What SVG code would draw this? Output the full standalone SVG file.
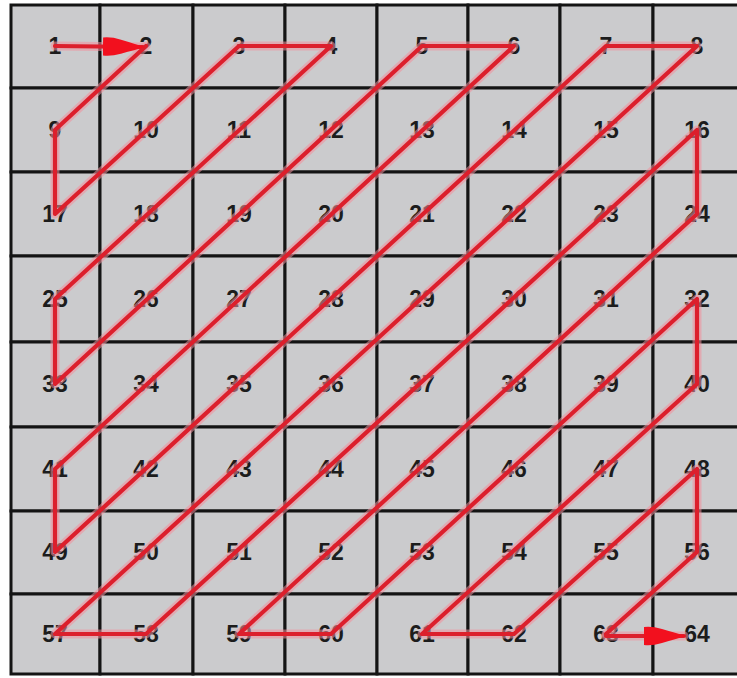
<svg xmlns="http://www.w3.org/2000/svg" xmlns:xlink="http://www.w3.org/1999/xlink" width="737" height="678" viewBox="0 0 737 678">
<style>
.cell{fill:#cbcbcd;stroke:#141414;stroke-width:3}
.lbl{font-family:"Liberation Sans",Arial,sans-serif;font-weight:bold;font-size:23px;fill:#1c1c1c;text-anchor:middle}
.halo{fill:none;stroke:#f2909c;stroke-width:9;stroke-opacity:0.55;stroke-linejoin:round;stroke-linecap:round}
.core{fill:none;stroke:#dc1f2c;stroke-width:4.2;stroke-linejoin:round;stroke-linecap:round}
</style>
<defs>
<marker id="ah" viewBox="0 0 42 20" refX="40" refY="10" markerWidth="42" markerHeight="20" markerUnits="userSpaceOnUse" orient="auto">
<path d="M0,1 Q8,0 18,3 Q32,7 42,10 Q32,13 18,17 Q8,20 0,19 Z" fill="#f2101e"/>
</marker>
<path id="zz" d="M146,46 L55,130 L55,214 L239,46 L331,46 L55,299 L55,384 L422,46 L514,46 L55,469 L55,552 L606,46 L697,46 L55,634 L146,634 L697,130 L697,214 L239,634 L331,634 L697,299 L697,384 L422,634 L514,634 L697,469 L697,552 L606,634"/>
<path id="a1" d="M55,46 L143,47"/>
<path id="a2" d="M606,636 L684,636"/>
</defs>
<rect x="0" y="0" width="737" height="678" fill="#ffffff"/>
<g id="cells">
<g id="n1"><rect class="cell" x="11" y="5" width="89" height="83"/><text class="lbl" x="55" y="54">1</text></g>
<g id="n2"><rect class="cell" x="100" y="5" width="93" height="83"/><text class="lbl" x="146" y="54">2</text></g>
<g id="n3"><rect class="cell" x="193" y="5" width="92" height="83"/><text class="lbl" x="239" y="54">3</text></g>
<g id="n4"><rect class="cell" x="285" y="5" width="92" height="83"/><text class="lbl" x="331" y="54">4</text></g>
<g id="n5"><rect class="cell" x="377" y="5" width="91" height="83"/><text class="lbl" x="422" y="54">5</text></g>
<g id="n6"><rect class="cell" x="468" y="5" width="92" height="83"/><text class="lbl" x="514" y="54">6</text></g>
<g id="n7"><rect class="cell" x="560" y="5" width="93" height="83"/><text class="lbl" x="606" y="54">7</text></g>
<g id="n8"><rect class="cell" x="653" y="5" width="92" height="83"/><text class="lbl" x="697" y="54">8</text></g>
<g id="n9"><rect class="cell" x="11" y="88" width="89" height="84"/><text class="lbl" x="55" y="138">9</text></g>
<g id="n10"><rect class="cell" x="100" y="88" width="93" height="84"/><text class="lbl" x="146" y="138">10</text></g>
<g id="n11"><rect class="cell" x="193" y="88" width="92" height="84"/><text class="lbl" x="239" y="138">11</text></g>
<g id="n12"><rect class="cell" x="285" y="88" width="92" height="84"/><text class="lbl" x="331" y="138">12</text></g>
<g id="n13"><rect class="cell" x="377" y="88" width="91" height="84"/><text class="lbl" x="422" y="138">13</text></g>
<g id="n14"><rect class="cell" x="468" y="88" width="92" height="84"/><text class="lbl" x="514" y="138">14</text></g>
<g id="n15"><rect class="cell" x="560" y="88" width="93" height="84"/><text class="lbl" x="606" y="138">15</text></g>
<g id="n16"><rect class="cell" x="653" y="88" width="92" height="84"/><text class="lbl" x="697" y="138">16</text></g>
<g id="n17"><rect class="cell" x="11" y="172" width="89" height="84"/><text class="lbl" x="55" y="222">17</text></g>
<g id="n18"><rect class="cell" x="100" y="172" width="93" height="84"/><text class="lbl" x="146" y="222">18</text></g>
<g id="n19"><rect class="cell" x="193" y="172" width="92" height="84"/><text class="lbl" x="239" y="222">19</text></g>
<g id="n20"><rect class="cell" x="285" y="172" width="92" height="84"/><text class="lbl" x="331" y="222">20</text></g>
<g id="n21"><rect class="cell" x="377" y="172" width="91" height="84"/><text class="lbl" x="422" y="222">21</text></g>
<g id="n22"><rect class="cell" x="468" y="172" width="92" height="84"/><text class="lbl" x="514" y="222">22</text></g>
<g id="n23"><rect class="cell" x="560" y="172" width="93" height="84"/><text class="lbl" x="606" y="222">23</text></g>
<g id="n24"><rect class="cell" x="653" y="172" width="92" height="84"/><text class="lbl" x="697" y="222">24</text></g>
<g id="n25"><rect class="cell" x="11" y="256" width="89" height="86"/><text class="lbl" x="55" y="307">25</text></g>
<g id="n26"><rect class="cell" x="100" y="256" width="93" height="86"/><text class="lbl" x="146" y="307">26</text></g>
<g id="n27"><rect class="cell" x="193" y="256" width="92" height="86"/><text class="lbl" x="239" y="307">27</text></g>
<g id="n28"><rect class="cell" x="285" y="256" width="92" height="86"/><text class="lbl" x="331" y="307">28</text></g>
<g id="n29"><rect class="cell" x="377" y="256" width="91" height="86"/><text class="lbl" x="422" y="307">29</text></g>
<g id="n30"><rect class="cell" x="468" y="256" width="92" height="86"/><text class="lbl" x="514" y="307">30</text></g>
<g id="n31"><rect class="cell" x="560" y="256" width="93" height="86"/><text class="lbl" x="606" y="307">31</text></g>
<g id="n32"><rect class="cell" x="653" y="256" width="92" height="86"/><text class="lbl" x="697" y="307">32</text></g>
<g id="n33"><rect class="cell" x="11" y="342" width="89" height="85"/><text class="lbl" x="55" y="392">33</text></g>
<g id="n34"><rect class="cell" x="100" y="342" width="93" height="85"/><text class="lbl" x="146" y="392">34</text></g>
<g id="n35"><rect class="cell" x="193" y="342" width="92" height="85"/><text class="lbl" x="239" y="392">35</text></g>
<g id="n36"><rect class="cell" x="285" y="342" width="92" height="85"/><text class="lbl" x="331" y="392">36</text></g>
<g id="n37"><rect class="cell" x="377" y="342" width="91" height="85"/><text class="lbl" x="422" y="392">37</text></g>
<g id="n38"><rect class="cell" x="468" y="342" width="92" height="85"/><text class="lbl" x="514" y="392">38</text></g>
<g id="n39"><rect class="cell" x="560" y="342" width="93" height="85"/><text class="lbl" x="606" y="392">39</text></g>
<g id="n40"><rect class="cell" x="653" y="342" width="92" height="85"/><text class="lbl" x="697" y="392">40</text></g>
<g id="n41"><rect class="cell" x="11" y="427" width="89" height="84"/><text class="lbl" x="55" y="477">41</text></g>
<g id="n42"><rect class="cell" x="100" y="427" width="93" height="84"/><text class="lbl" x="146" y="477">42</text></g>
<g id="n43"><rect class="cell" x="193" y="427" width="92" height="84"/><text class="lbl" x="239" y="477">43</text></g>
<g id="n44"><rect class="cell" x="285" y="427" width="92" height="84"/><text class="lbl" x="331" y="477">44</text></g>
<g id="n45"><rect class="cell" x="377" y="427" width="91" height="84"/><text class="lbl" x="422" y="477">45</text></g>
<g id="n46"><rect class="cell" x="468" y="427" width="92" height="84"/><text class="lbl" x="514" y="477">46</text></g>
<g id="n47"><rect class="cell" x="560" y="427" width="93" height="84"/><text class="lbl" x="606" y="477">47</text></g>
<g id="n48"><rect class="cell" x="653" y="427" width="92" height="84"/><text class="lbl" x="697" y="477">48</text></g>
<g id="n49"><rect class="cell" x="11" y="511" width="89" height="83"/><text class="lbl" x="55" y="560">49</text></g>
<g id="n50"><rect class="cell" x="100" y="511" width="93" height="83"/><text class="lbl" x="146" y="560">50</text></g>
<g id="n51"><rect class="cell" x="193" y="511" width="92" height="83"/><text class="lbl" x="239" y="560">51</text></g>
<g id="n52"><rect class="cell" x="285" y="511" width="92" height="83"/><text class="lbl" x="331" y="560">52</text></g>
<g id="n53"><rect class="cell" x="377" y="511" width="91" height="83"/><text class="lbl" x="422" y="560">53</text></g>
<g id="n54"><rect class="cell" x="468" y="511" width="92" height="83"/><text class="lbl" x="514" y="560">54</text></g>
<g id="n55"><rect class="cell" x="560" y="511" width="93" height="83"/><text class="lbl" x="606" y="560">55</text></g>
<g id="n56"><rect class="cell" x="653" y="511" width="92" height="83"/><text class="lbl" x="697" y="560">56</text></g>
<g id="n57"><rect class="cell" x="11" y="594" width="89" height="80"/><text class="lbl" x="55" y="642">57</text></g>
<g id="n58"><rect class="cell" x="100" y="594" width="93" height="80"/><text class="lbl" x="146" y="642">58</text></g>
<g id="n59"><rect class="cell" x="193" y="594" width="92" height="80"/><text class="lbl" x="239" y="642">59</text></g>
<g id="n60"><rect class="cell" x="285" y="594" width="92" height="80"/><text class="lbl" x="331" y="642">60</text></g>
<g id="n61"><rect class="cell" x="377" y="594" width="91" height="80"/><text class="lbl" x="422" y="642">61</text></g>
<g id="n62"><rect class="cell" x="468" y="594" width="92" height="80"/><text class="lbl" x="514" y="642">62</text></g>
<g id="n63"><rect class="cell" x="560" y="594" width="93" height="80"/><text class="lbl" x="606" y="642">63</text></g>
<g id="n64"><rect class="cell" x="653" y="594" width="92" height="80"/><text class="lbl" x="697" y="642">64</text></g>
</g>
<g id="connectors">
<use xlink:href="#zz" class="halo"/>
<use xlink:href="#a1" class="halo"/>
<use xlink:href="#a2" class="halo"/>
<use xlink:href="#zz" class="core"/>
<path d="M55,46 L143,47" class="core" marker-end="url(#ah)"/>
<path d="M606,636 L684,636" class="core" marker-end="url(#ah)"/>
</g>
</svg>
